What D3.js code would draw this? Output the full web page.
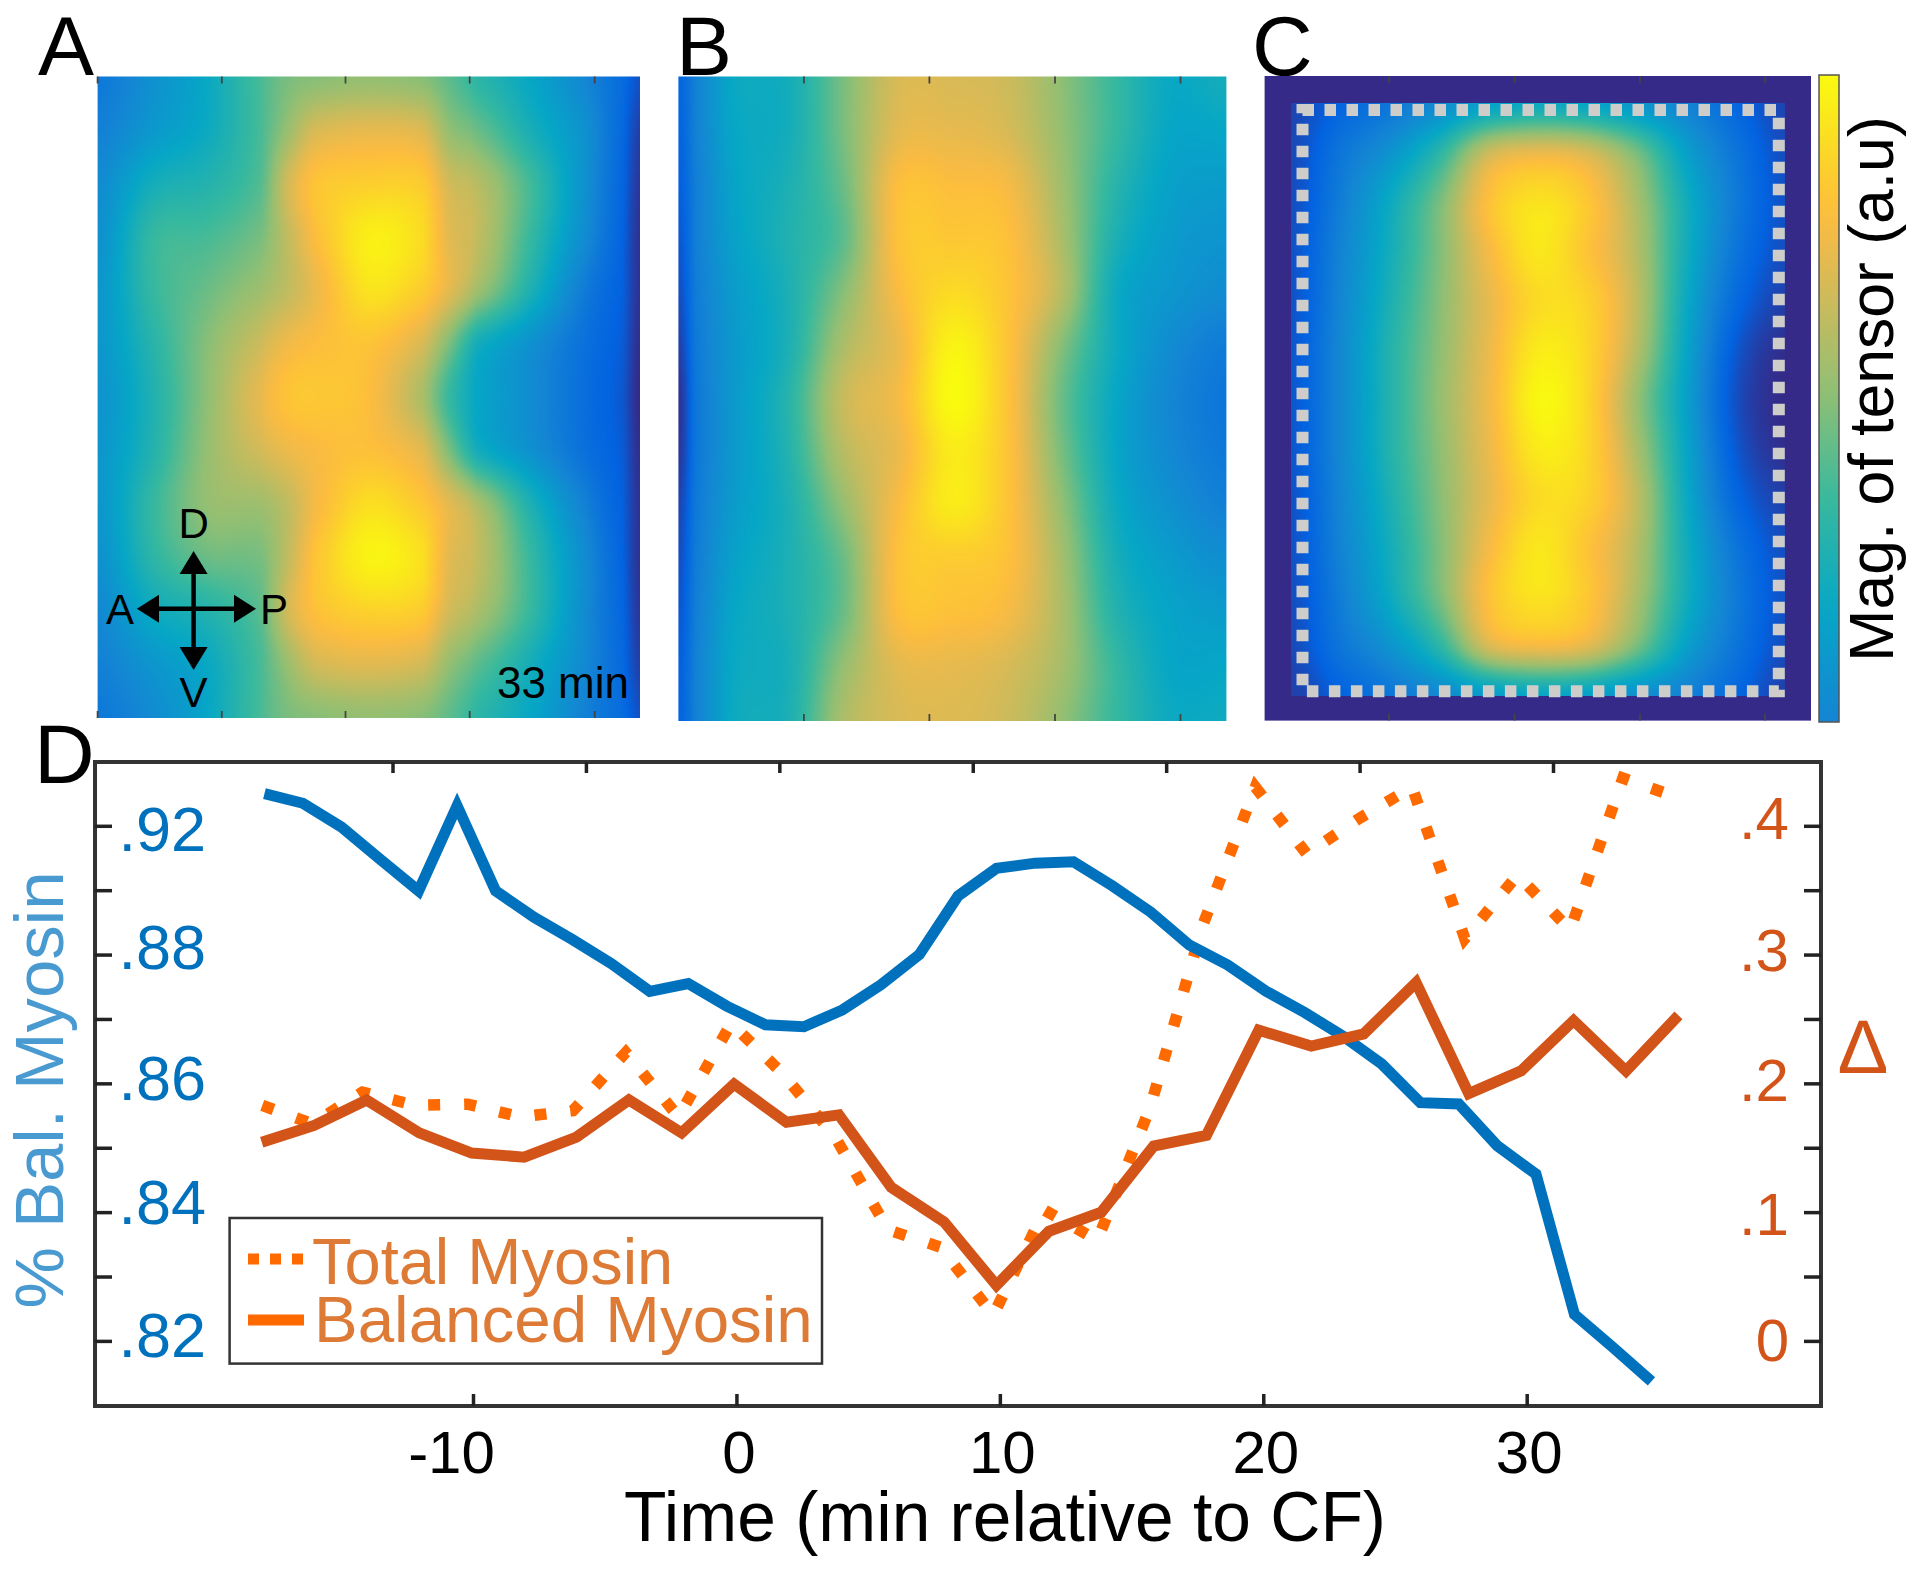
<!DOCTYPE html>
<html><head><meta charset="utf-8">
<script src="https://cdnjs.cloudflare.com/ajax/libs/d3/7.8.5/d3.min.js"></script>
<style>html,body{margin:0;padding:0;background:#fff}svg{display:block}text{font-family:"Liberation Sans",Arial,sans-serif}</style>
</head><body><svg id="c" width="1916" height="1570" viewBox="0 0 1916 1570"></svg>
<script>
// ---- line chart data ----
const blueTimes = [-16.62,-14.63,-12.64,-10.64,-8.65,-6.66,-4.67,-2.68,-0.68,1.31,3.30,5.29,7.28,9.28,11.27,13.26,15.25,17.24,19.24,21.23,23.22,25.21,27.20,29.20,31.19,33.18,35.17,37.16,39.16,41.15,43.14,45.13,47.12,49.12,51.11,53.10,55.09];
const balancedPct = [.9050,.9035,.8998,.8948,.8899,.9031,.8899,.8858,.8823,.8786,.8743,.8755,.8720,.8691,.8688,.8714,.8753,.8800,.8891,.8934,.8942,.8944,.8907,.8866,.8815,.8784,.8743,.8710,.8673,.8630,.8570,.8568,.8503,.8459,.8241,.8190,.8137];
const orangeTimes = [-18.02,-16.03,-14.04,-12.04,-10.05,-8.06,-6.07,-4.08,-2.08,-0.09,1.90,3.89,5.88,7.88,9.87,11.86,13.85,15.84,17.84,19.83,21.82,23.81,25.80,27.80,29.79,31.78,33.77,35.76];
const totalTimes = [-18.0,-16.1,-14.2,-12.2,-10.2,-8.2,-6.2,-4.2,-2.2,-0.2,1.75,3.75,5.75,7.75,9.75,11.7,13.7,15.7,17.7,19.7,21.65,23.65,25.65,27.65,29.65,31.65,33.65,35.7];
const balancedDelta = [.1542,.1673,.1871,.1616,.1459,.1427,.1583,.1871,.1616,.1994,.1698,.1755,.1192,.0925,.0432,.0851,.0999,.1513,.1595,.2413,.2290,.2384,.2783,.1920,.2097,.2487,.2097,.2528];
const totalDelta = [.1829,.1686,.1932,.1829,.1838,.1739,.1788,.2240,.1739,.2467,.2076,.1583,.0863,.0728,.0200,.1015,.0781,.1809,.3227,.4300,.3782,.4058,.4300,.3124,.3618,.3190,.4370,.4222];
const bottomTicks = [-10,0,10,20,30];
const topTicks = [-10,0,10,20,30,40,50];
const leftTicks = [.82,.83,.84,.85,.86,.87,.88,.89,.90];
const leftTickLabels = {".82":".82",".84":".84",".86":".86",".88":".88",".9":".92"};
const rightTicks = [0,.05,.1,.15,.2,.25,.3,.35,.4];
const rightTickLabels = {"0":"0",".1":".1",".2":".2",".3":".3",".4":".4"};
const legendNames = ["Total Myosin","Balanced Myosin"];

// ---- heat-map fields (rows x columns, colour-map position) ----
const colsA = [0,.1,.2,.3,.35,.4,.5,.6,.65,.7,.8,.9,.97,1];
const fieldA = [
[.21,.30,.39,.53,.60,.62,.64,.62,.56,.48,.38,.26,.16,.09],
[.24,.33,.40,.53,.65,.76,.79,.77,.64,.58,.43,.30,.15,.05],
[.28,.42,.46,.55,.75,.86,.89,.88,.75,.70,.52,.30,.14,.03],
[.30,.50,.53,.60,.72,.84,.97,.92,.78,.72,.50,.28,.13,.02],
[.32,.50,.58,.66,.72,.80,.94,.88,.78,.66,.44,.22,.12,.02],
[.32,.47,.62,.74,.81,.84,.86,.76,.60,.42,.30,.18,.11,.01],
[.31,.45,.63,.79,.86,.87,.84,.68,.50,.38,.28,.17,.10,.00],
[.32,.46,.64,.75,.80,.83,.85,.78,.60,.42,.30,.18,.11,.01],
[.32,.50,.64,.66,.72,.82,.93,.87,.78,.68,.44,.24,.12,.02],
[.30,.48,.58,.60,.72,.86,.98,.93,.78,.72,.50,.28,.13,.02],
[.27,.40,.46,.56,.75,.85,.90,.88,.75,.68,.50,.28,.14,.03],
[.24,.32,.39,.53,.65,.75,.78,.75,.64,.56,.42,.27,.15,.05],
[.21,.28,.38,.53,.60,.62,.64,.62,.56,.48,.38,.24,.16,.09]];
const colsB = [0,.03,.1,.2,.3,.4,.5,.6,.7,.8,.9,1];
const fieldB = [
[.14,.24,.39,.42,.60,.76,.76,.74,.63,.50,.39,.42],
[.13,.24,.38,.42,.60,.78,.79,.76,.64,.50,.38,.38],
[.12,.23,.37,.44,.58,.84,.84,.82,.66,.47,.36,.34],
[.10,.23,.36,.45,.56,.85,.87,.85,.68,.44,.34,.31],
[.08,.22,.34,.44,.62,.83,.92,.86,.70,.40,.32,.28],
[.05,.21,.33,.44,.68,.80,.98,.86,.62,.40,.28,.22],
[.02,.20,.33,.47,.73,.82,1.0,.86,.58,.38,.26,.20],
[.03,.20,.33,.46,.70,.80,.96,.86,.60,.38,.27,.21],
[.06,.21,.34,.44,.64,.83,.96,.86,.64,.40,.30,.24],
[.08,.22,.36,.44,.58,.85,.88,.85,.67,.43,.34,.29],
[.10,.23,.38,.44,.58,.84,.85,.82,.68,.46,.37,.34],
[.12,.24,.39,.43,.64,.78,.79,.76,.67,.50,.38,.38],
[.13,.24,.40,.44,.68,.76,.77,.74,.64,.50,.40,.40]];
const colsC = [0,.1,.2,.3,.4,.5,.6,.7,.8,.9,1];
const fieldC = [
[.06,.14,.20,.28,.36,.40,.38,.32,.25,.15,.06],
[.07,.20,.31,.48,.74,.80,.76,.60,.36,.20,.08],
[.08,.23,.40,.60,.85,.94,.87,.68,.42,.22,.09],
[.09,.25,.42,.61,.82,.95,.86,.70,.42,.20,.08],
[.09,.26,.44,.62,.79,.92,.90,.72,.40,.16,.05],
[.10,.27,.46,.63,.80,.96,.91,.70,.38,.11,.01],
[.10,.27,.46,.64,.81,.99,.91,.65,.36,.09,.00],
[.10,.27,.46,.63,.80,.96,.91,.68,.38,.11,.01],
[.09,.26,.44,.62,.79,.92,.90,.72,.40,.15,.05],
[.09,.25,.42,.61,.82,.95,.86,.70,.42,.20,.08],
[.08,.23,.40,.60,.85,.94,.87,.68,.42,.22,.09],
[.07,.20,.31,.48,.76,.82,.78,.60,.36,.20,.08],
[.05,.13,.20,.27,.34,.38,.36,.30,.24,.15,.05]];
const parulaStops = [0,.127,.254,.381,.508,.635,.762,.825,.841,.889,1];
const parulaColors = ["#352a87","#0363e1","#1485d4","#06a7c6","#38b99e","#92bf73","#d9ba56","#f8bb44","#fdbe3d","#fcce2e","#f9fb0e"];

const BLUE="#0072bd", ORANGE="#d35418", DOT="#ff6a00", LIGHTBLUE="#4a9ad2", LEGTXT="#dd7a35";
const svg=d3.select("#c");
const parula=d3.scaleLinear().domain(parulaStops).range(parulaColors).clamp(true);

function cr(a,b,c,d,t){return b+.5*t*(c-a+t*(2*a-5*b+4*c-d+t*(3*(b-c)+d-a)));}
function heat(field,cols,x0,x1,y0,y1){
  const W=Math.round((x1-x0)/2),H=Math.round((y1-y0)/2);
  const cv=document.createElement("canvas");cv.width=W;cv.height=H;
  const ctx=cv.getContext("2d"),im=ctx.createImageData(W,H);
  const R=field.length,C=field[0].length;
  const gx=d3.scaleLinear().domain(cols.map(u=>u*(W-1))).range(d3.range(C));
  const gy=d3.scaleLinear().domain([0,H-1]).range([0,R-1]);
  const cl=(v,m)=>Math.max(0,Math.min(m,v));
  for(let j=0;j<H;j++){const fy=gy(j),r=Math.min(Math.floor(fy),R-2),ty=fy-r;
    for(let i=0;i<W;i++){const fx=gx(i),c=Math.min(Math.floor(fx),C-2),tx=fx-c;
      const rows=[-1,0,1,2].map(dr=>{const row=field[cl(r+dr,R-1)];
        return cr(row[cl(c-1,C-1)],row[c],row[c+1],row[cl(c+2,C-1)],tx);});
      const col=d3.rgb(parula(cr(rows[0],rows[1],rows[2],rows[3],ty)));
      const k=(j*W+i)*4;im.data[k]=col.r;im.data[k+1]=col.g;im.data[k+2]=col.b;im.data[k+3]=255;
    }}
  ctx.putImageData(im,0,0);
  svg.append("image").attr("x",x0).attr("y",y0).attr("width",x1-x0).attr("height",y1-y0)
    .attr("preserveAspectRatio","none").attr("href",cv.toDataURL());
}
function hticks(xs,y0,y1){
  xs.forEach(x=>{
    svg.append("line").attr("x1",x).attr("x2",x).attr("y1",y0).attr("y2",y0+7).attr("stroke","#444").attr("stroke-width",1.8);
    svg.append("line").attr("x1",x).attr("x2",x).attr("y1",y1-7).attr("y2",y1).attr("stroke","#444").attr("stroke-width",1.8);
  });
}
function txt(s,x,y,size,fill,anchor,rot){
  const t=svg.append("text").attr("font-size",size).attr("fill",fill||"#000").attr("text-anchor",anchor||"start").text(s);
  if(rot) t.attr("transform",`translate(${x},${y}) rotate(${rot})`); else t.attr("x",x).attr("y",y);
  return t;
}
// panels
heat(fieldA,colsA,97.6,640,76.5,718);
hticks([97.6,221.8,345.5,469.7,594.7],76.5,718);
heat(fieldB,colsB,678.4,1226.4,76.5,721);
hticks([803.9,929.4,1055,1180.5],76.5,721);
svg.append("rect").attr("x",1264.6).attr("y",76).attr("width",546.4).attr("height",644.6).attr("fill","#352a87");
heat(fieldC,colsC,1291,1785,103,696);
hticks([1389,1514.6,1640,1765],76,720.6);
svg.append("rect").attr("x",1302.5).attr("y",110).attr("width",476.3).attr("height",581.3)
  .attr("fill","none").attr("stroke","#cfcdc9").attr("stroke-width",12).attr("stroke-dasharray","11.5 10.5");

// colour bar
const defs=svg.append("defs");
const g=defs.append("linearGradient").attr("id","cb").attr("x1",0).attr("x2",0).attr("y1",1).attr("y2",0);
d3.range(0,1.001,.05).forEach(f=>g.append("stop").attr("offset",f).attr("stop-color",parula(.25+.75*f)));
svg.append("rect").attr("x",1819).attr("y",75).attr("width",20).attr("height",647).attr("fill","url(#cb)").attr("stroke","#555").attr("stroke-width",1.5);
txt("Mag. of tensor (a.u)",1893,389,62.5,"#000","middle",-90);

// panel letters
txt("A",38,75,84);txt("B",676,75,84);txt("C",1252,75,84);txt("D",34,783,84);

// compass
const ar=(x1,y1,x2,y2)=>{
  svg.append("line").attr("x1",x1).attr("y1",y1).attr("x2",x2).attr("y2",y2).attr("stroke","#000").attr("stroke-width",4.5);
};
const cx=193.6,cy=608.8;
ar(cx,563,cx,655);ar(150,cy,243,cy);
const tri=(p)=>svg.append("polygon").attr("points",p).attr("fill","#000");
tri(`${cx},551 ${cx-14},574 ${cx+14},574`);tri(`${cx},670 ${cx-14},647 ${cx+14},647`);
tri(`136.8,${cy} 159,${cy-14} 159,${cy+14}`);tri(`256,${cy} 234,${cy-14} 234,${cy+14}`);
txt("D",cx,538,42,"#000","middle");txt("V",cx,707,42,"#000","middle");
txt("A",120,624,42,"#000","middle");txt("P",274,624,42,"#000","middle");
txt("33 min",629,698,44,"#000","end");

// panel D scales
const L=95,R=1821,T=762,B=1406;
const x=d3.scaleLinear().domain([-10,30]).range([473,1526.7]);
const xTop=d3.scaleLinear().domain([-10,50]).range([392.5,1553]);
const yL=d3.scaleLinear().domain([.82,.90]).range([1340.9,825.8]);
const yR=d3.scaleLinear().domain([0,.4]).range([1340.9,825.8]);

const lineBlue=d3.line().x((d,i)=>xTop(blueTimes[i])).y(d=>yL(d));
const lineO=d3.line().x((d,i)=>x(orangeTimes[i])).y(d=>yR(d));
const lineT=d3.line().x((d,i)=>x(totalTimes[i])).y(d=>yR(d));
svg.append("path").datum(totalDelta).attr("d",lineT).attr("fill","none").attr("stroke",DOT).attr("stroke-width",11.5).attr("stroke-dasharray","12 24");
svg.append("path").datum(balancedPct).attr("d",lineBlue).attr("fill","none").attr("stroke",BLUE).attr("stroke-width",11);
svg.append("path").datum(balancedDelta).attr("d",lineO).attr("fill","none").attr("stroke",ORANGE).attr("stroke-width",11);

svg.append("rect").attr("x",L).attr("y",T).attr("width",R-L).attr("height",B-T).attr("fill","none").attr("stroke","#333").attr("stroke-width",4);

function clean(sel,w){sel.select(".domain").remove();sel.selectAll(".tick line").attr("stroke","#222").attr("stroke-width",w||3.5);}
function dropEmpty(sel){sel.selectAll(".tick text").filter(function(){return !this.textContent;}).remove();}
// bottom axis
const gb=svg.append("g").attr("transform",`translate(0,${B})`).call(d3.axisBottom(x).tickValues(bottomTicks).tickSizeInner(-12).tickSizeOuter(0).tickFormat(d=>String(d)));
clean(gb);
gb.selectAll(".tick text").attr("font-size",60).attr("fill","#000").attr("y",0).attr("dy",67)
  .attr("dx",d=>d<0?-22:2).style("font-family",'"Liberation Sans"');
// top axis
const gt=svg.append("g").attr("transform",`translate(0,${T})`).call(d3.axisTop(xTop).tickValues(topTicks).tickSizeInner(-11).tickSizeOuter(0).tickFormat(()=>""));
clean(gt);dropEmpty(gt);
// left axis
const leftNudge={".82":16,".84":11,".86":16,".88":14,".9":25};
const fmt=v=>v===0?"0":String(+v.toFixed(2)).replace(/^0/,"");
const gl=svg.append("g").attr("transform",`translate(${L},0)`).call(d3.axisLeft(yL).tickValues(leftTicks).tickSizeInner(-17).tickSizeOuter(0).tickFormat(d=>leftTickLabels[fmt(d)]||""));
clean(gl);
gl.selectAll(".tick text").attr("font-size",63).attr("fill",BLUE).attr("x",111).attr("dy",d=>leftNudge[fmt(d)]||0).attr("text-anchor","end").style("font-family",'"Liberation Sans"');
dropEmpty(gl);
// right axis
const rightNudge={"0":20,".1":22,".2":17,".3":16,".4":13};
const gr=svg.append("g").attr("transform",`translate(${R},0)`).call(d3.axisRight(yR).tickValues(rightTicks).tickSizeInner(-17).tickSizeOuter(0).tickFormat(d=>rightTickLabels[fmt(d)]||""));
clean(gr);
gr.selectAll(".tick text").attr("font-size",60).attr("fill",ORANGE).attr("x",-32).attr("dy",d=>rightNudge[fmt(d)]||0).attr("text-anchor","end").style("font-family",'"Liberation Sans"');
dropEmpty(gr);
txt("\u2206",1863,1073,76,ORANGE,"middle");

txt("Time (min relative to CF)",1005,1541,69.5,"#000","middle");
txt("% Bal. Myosin",63,1090,69,LIGHTBLUE,"middle",-90);

// legend
svg.append("rect").attr("x",229.6).attr("y",1218).attr("width",592.4).attr("height",145.6).attr("fill","#fff").attr("stroke","#333").attr("stroke-width",2.5);
svg.append("line").attr("x1",248).attr("x2",304).attr("y1",1259).attr("y2",1259).attr("stroke",DOT).attr("stroke-width",11).attr("stroke-dasharray","11 11");
svg.append("line").attr("x1",248).attr("x2",304).attr("y1",1320).attr("y2",1320).attr("stroke",DOT).attr("stroke-width",11);
txt(legendNames[0],312,1283.7,65,LEGTXT);
txt(legendNames[1],314,1342,65.5,LEGTXT);
</script></body></html>
